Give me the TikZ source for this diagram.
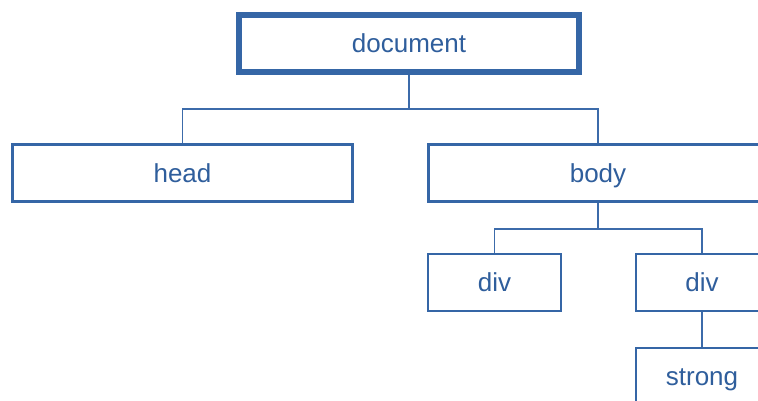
\documentclass[tikz,border=0pt]{standalone}
\usepackage{fontspec}
\setmainfont{Liberation Sans}
\definecolor{treeblue}{HTML}{3566A6}
\definecolor{textblue}{HTML}{2F5E9C}
\definecolor{linkblue}{HTML}{3C6BAA}
\tikzset{
  tag/.style={draw=treeblue, fill=white, rectangle, inner sep=0pt,
    text height=24pt, text depth=5.5pt,
    font=\fontsize{26}{30}\selectfont, text=textblue},
  rootbox/.style={tag, line width=5.5pt},
  levelbox/.style={tag, line width=3pt},
  leafbox/.style={tag, line width=1.4pt},
  link/.style={draw=linkblue, line width=1.2pt},
}
\begin{document}
\begin{tikzpicture}[x=1pt, y=-1pt]
  \useasboundingbox (0,0) rectangle (758,401);
  \clip (0,0) rectangle (758,401);

  % element boxes
  \node[rootbox, minimum width=340pt, minimum height=57pt] (doc) at (409,43.5) {document};
  \node[levelbox, minimum width=340pt, minimum height=56pt] (head) at (182.5,173) {head};
  \node[levelbox, minimum width=339pt, minimum height=56pt] (body) at (598,173) {body};
  \node[leafbox, minimum width=133pt, minimum height=57pt] (div1) at (494.5,282.5) {div};
  \node[leafbox, minimum width=132pt, minimum height=57pt] (div2) at (702,282.5) {div};
  \node[leafbox, minimum width=132pt, minimum height=57pt] (strong) at (702,376.5) {strong};

  % branch points
  \coordinate (j1) at (409,109);
  \coordinate (j2) at (598,229);

  % connectors
  \draw[link] (doc.south) -- (j1);
  \draw[link] (head.north) |- (j1) -| (body.north);
  \draw[link] (body.south) -- (j2);
  \draw[link] (div1.north) |- (j2) -| (div2.north);
  \draw[link] (div2.south) -- (strong.north);
\end{tikzpicture}
\end{document}
